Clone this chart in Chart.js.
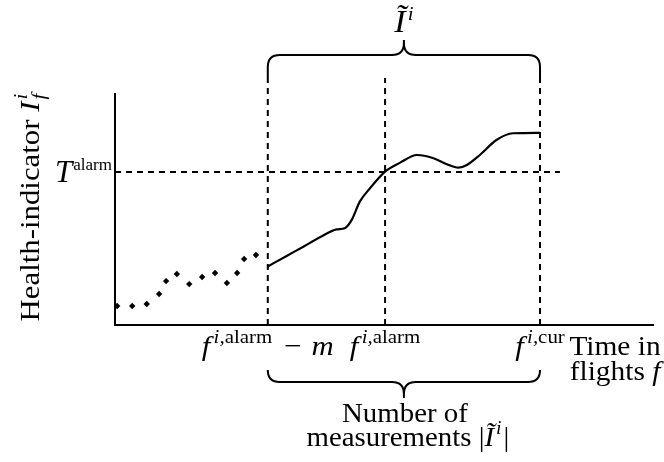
<!DOCTYPE html>
<html><head><meta charset="utf-8">
<script src="https://cdn.jsdelivr.net/npm/chart.js@4"></script>
<style>html,body{margin:0;padding:0;background:#fff}canvas{display:block}</style>
</head><body>
<canvas id="c" width="664" height="462"></canvas>
<script>
// ---- data (schematic units: time in flights 0..100, health indicator 0..100) ----
const dotX = [0.4, 3.2, 5.9, 8.2, 9.5, 11.5, 13.8, 16.2, 18.6, 20.8, 22.7, 24.0, 26.2];
const dotY = [8.2, 8.2, 9.1, 13.4, 19.0, 22.1, 17.7, 20.8, 22.5, 18.2, 22.5, 28.6, 30.3];
const curveX = [28.3, 31.9, 35.0, 38.1, 41.2, 42.7, 44.0, 45.5, 47.4, 50.2, 53.0, 56.1, 59.2, 61.7, 63.8, 65.4, 67.8, 70.9, 74.0, 79.0];
const curveY = [25.2, 29.9, 33.9, 38.0, 41.4, 41.9, 45.5, 53.4, 59.2, 66.4, 70.3, 73.6, 72.2, 69.6, 68.1, 69.3, 73.6, 80.1, 83.0, 83.2];
const markX = [28.4, 50.2, 79.0];      // f^{i,alarm}-m, f^{i,alarm}, f^{i,cur}
const markTop = 106.9;                 // top of the vertical dashed markers
const alarmT = 66.2;                   // T^alarm
const alarmLineEnd = 82.7;
// text parts: [text, style, extra]  style: i=italic, r=roman, si=sup italic, sr=sup roman, bi=sub italic, sp=space
const tickLabels = [
  [['f','i'],['','sp',3],['i,','si'],['alarm','sr'],['','sp',11],['−','r'],['','sp',9],['m','i']],
  [['f','i'],['','sp',3],['i,','si'],['alarm','sr']],
  [['f','i'],['','sp',3],['i,','si'],['cur','sr']]
];
const yTickLabel = [['T','I'],['','sp',1],['alarm','ss']];
const xTitle = ['Time in', [['flights ','r'],['f','i']]];
const yTitle = [['Health-indicator ','r'],['I','i'],['','sp',2],['f','bi','stack'],['i','si']];
const topLabel = [['Ĩ','I'],['','sp',2],['i','si']];
const bottomLabel = ['Number of', [['measurements ','r'],['|','r'],['Ĩ','i'],['','sp',2],['i','si'],['','sp',2],['|','r']]];

const FAM = "'Liberation Serif', 'DejaVu Serif', serif";
const SZ = 28, SUP = 19;
function fontFor(st){
  if (st==='I') return 'italic ' + (SZ + 3) + 'px ' + FAM;
  if (st==='i') return 'italic ' + SZ + 'px ' + FAM;
  if (st==='r' || st==='sp') return SZ + 'px ' + FAM;
  if (st==='si' || st==='bi') return 'italic ' + SUP + 'px ' + FAM;
  if (st==='ss') return (SUP - 2) + 'px ' + FAM;
  return SUP + 'px ' + FAM;
}
function adv(ctx, p){
  if (p[1]==='sp') return p[2];
  if (p[2]==='stack') return 0;
  ctx.font = fontFor(p[1]); return ctx.measureText(p[0]).width;
}
function widthOf(ctx, parts){ let w = 0; for (const p of parts) w += adv(ctx, p); return w; }
function drawParts(ctx, parts, x, y, align, sx){
  sx = sx || 1;
  const w = widthOf(ctx, parts) * sx;
  let x0 = align === 'center' ? x - w/2 : align === 'right' ? x - w : x;
  ctx.save();
  ctx.translate(x0, y); ctx.scale(sx, 1);
  ctx.textAlign = 'left'; ctx.textBaseline = 'alphabetic';
  let cx = 0;
  for (const p of parts){
    const st = p[1];
    if (st !== 'sp'){
      ctx.font = fontFor(st);
      const dy = (st === 'si' || st === 'sr' || st === 'ss') ? -12 : st === 'bi' ? 6 : 0;
      ctx.fillText(p[0], cx, dy);
    }
    cx += adv(ctx, p);
  }
  ctx.restore();
}
function brace(ctx, x1, x2, yEnd, yMid, yTip, r){
  const s = Math.sign(yEnd - yMid);
  const xm = (x1 + x2) / 2;
  ctx.beginPath();
  ctx.moveTo(x1, yEnd);
  ctx.lineTo(x1, yMid + s*r);
  ctx.quadraticCurveTo(x1, yMid, x1 + r, yMid);
  ctx.lineTo(xm - r, yMid);
  ctx.quadraticCurveTo(xm, yMid, xm, yMid - s*r);
  ctx.lineTo(xm, yTip);
  ctx.moveTo(xm, yMid - s*r);
  ctx.quadraticCurveTo(xm, yMid, xm + r, yMid);
  ctx.lineTo(x2 - r, yMid);
  ctx.quadraticCurveTo(x2, yMid, x2, yMid + s*r);
  ctx.lineTo(x2, yEnd);
  ctx.stroke();
}

const annot = {
  id: 'annot',
  afterDraw(chart){
    const ctx = chart.ctx, xs = chart.scales.x, ys = chart.scales.y;
    ctx.save();
    ctx.strokeStyle = '#000'; ctx.fillStyle = '#000'; ctx.lineWidth = 2;
    const xa = xs.getPixelForValue(markX[0]), xc = xs.getPixelForValue(markX[2]);
    const top = ys.getPixelForValue(markTop), bot = ys.getPixelForValue(0);
    // braces
    brace(ctx, xa, xc, top, top - 23, top - 38, 12);
    brace(ctx, xa, xc, bot + 45, bot + 57, bot + 73, 12);
    const xm = (xa + xc) / 2;
    drawParts(ctx, topLabel, xm, top - 46, 'center', 1.1);
    drawParts(ctx, [[bottomLabel[0], 'r']], xm + 1, bot + 97, 'center', 1.03);
    drawParts(ctx, bottomLabel[1], xm + 4, bot + 121, 'center', 1.03);
    // x tick labels, centred on their markers
    const tb = bot + 30;
    tickLabels.forEach((lab, i) => drawParts(ctx, lab, xs.getPixelForValue(markX[i]), tb, 'center', 1.1));
    // x title
    const tx = xs.getPixelForValue(markX[2]) + 75;
    drawParts(ctx, [[xTitle[0], 'r']], tx, tb, 'center', 1.05);
    drawParts(ctx, xTitle[1], tx, tb + 25, 'center', 1.05);
    // y tick label
    drawParts(ctx, yTickLabel, xs.getPixelForValue(0) - 3, ys.getPixelForValue(alarmT) + 10, 'right');
    // y title
    ctx.save();
    ctx.translate(39, (ys.getPixelForValue(0) + ys.getPixelForValue(100)) / 2 - 2);
    ctx.rotate(-Math.PI / 2);
    drawParts(ctx, yTitle, 0, 0, 'center', 1.1);
    ctx.restore();
    ctx.restore();
  }
};

const dash = [6, 5];
function vline(x){ return { type:'line', data:[{x:x,y:0},{x:x,y:markTop}], borderColor:'#000', borderWidth:2, borderDash:dash, pointRadius:0, clip:false, tension:0 }; }

new Chart(document.getElementById('c'), {
  type: 'scatter',
  data: {
    datasets: [
      { type:'scatter', data: dotX.map((x,i)=>({x, y: dotY[i]})), pointStyle:'rectRot', pointRadius:3.2, backgroundColor:'#000', borderColor:'#000', borderWidth:0, clip:false },
      { type:'line', data: curveX.map((x,i)=>({x, y: curveY[i]})), borderColor:'#000', borderWidth:2.2, pointRadius:0, cubicInterpolationMode:'monotone', fill:false, clip:false },
      vline(markX[0]), vline(markX[1]), vline(markX[2]),
      { type:'line', data:[{x:0,y:alarmT},{x:alarmLineEnd,y:alarmT}], borderColor:'#000', borderWidth:2, borderDash:dash, pointRadius:0, clip:false }
    ]
  },
  options: {
    responsive:false, animation:false,
    layout:{ padding:{ left:115, right:11, top:94, bottom:137 } },
    plugins:{ legend:{display:false}, tooltip:{enabled:false} },
    scales:{
      x:{ type:'linear', min:0, max:100, grid:{display:false, drawTicks:false}, ticks:{display:false}, border:{display:true, color:'#000', width:2} },
      y:{ type:'linear', min:0, max:100, grid:{display:false, drawTicks:false}, ticks:{display:false}, border:{display:true, color:'#000', width:2} }
    }
  },
  plugins:[annot]
});
</script>
</body></html>
